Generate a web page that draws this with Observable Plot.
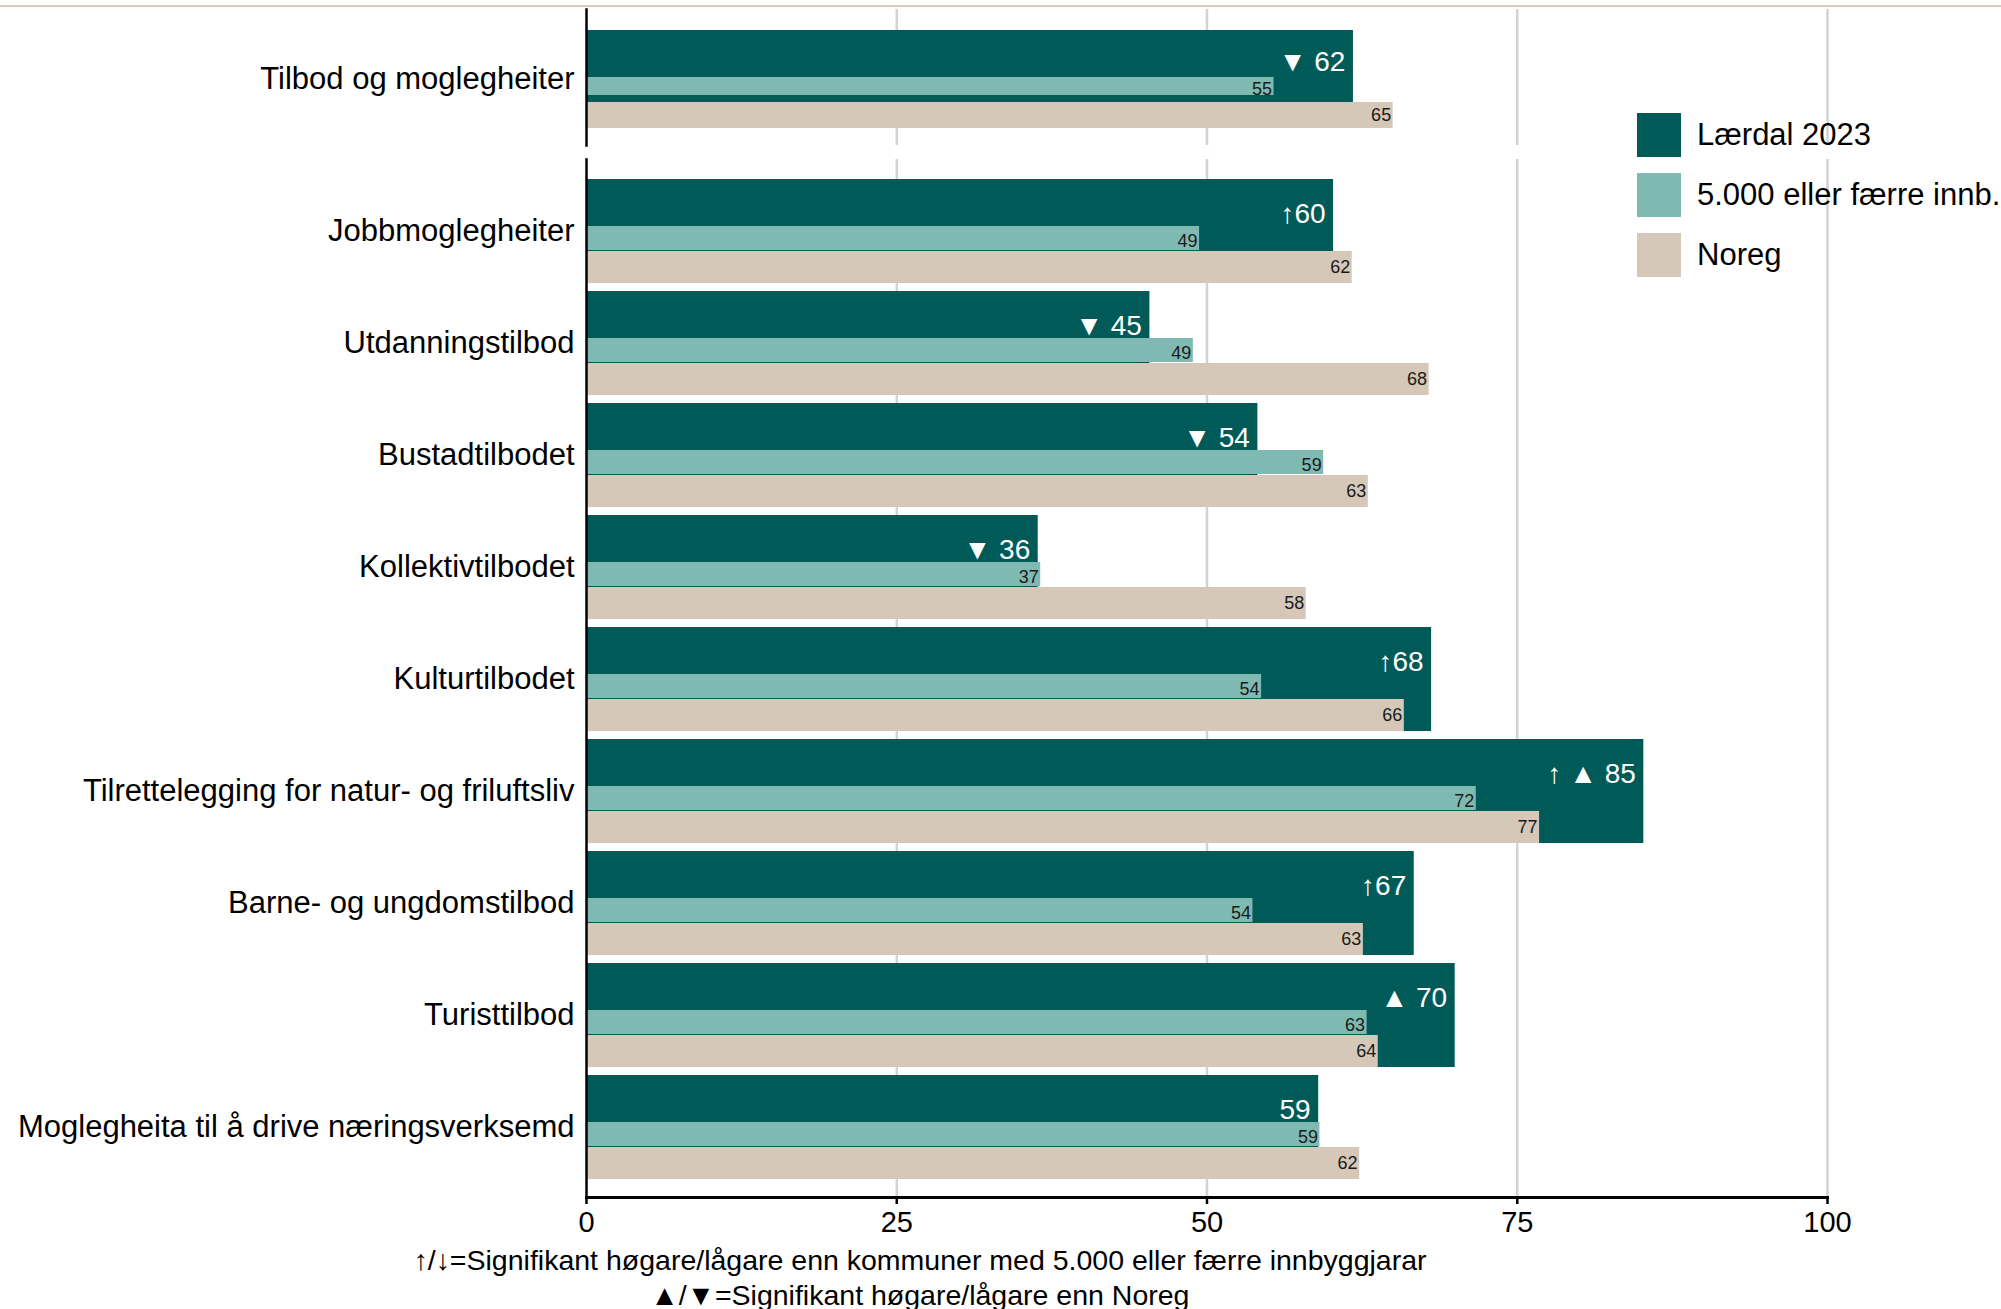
<!DOCTYPE html>
<html>
<head>
<meta charset="utf-8">
<script src="https://cdn.jsdelivr.net/npm/d3@7"></script>
<script src="https://cdn.jsdelivr.net/npm/@observablehq/plot@0.6"></script>
<style>
  html, body { margin: 0; padding: 0; background: #fff; }
  body { width: 2001px; height: 1309px; position: relative; overflow: hidden; font-family: "Liberation Sans", Arial, sans-serif; color: #000; }
  .topline { position: absolute; left: 0; top: 5px; width: 2001px; height: 2px; background: #d9ccbd; }
  .panel { position: absolute; left: 0; }
  .legend { position: absolute; left: 1637px; top: 113px; }
  .legend .item { display: flex; align-items: center; height: 44px; margin-bottom: 16px; white-space: nowrap; }
  .legend .sw { width: 44px; height: 44px; margin-right: 16px; flex: none; }
  .legend span { font-size: 31px; }
  .footer { position: absolute; left: 0; top: 1243px; width: 1840px; text-align: center; font-size: 28.5px; line-height: 35px; }
</style>
</head>
<body>
<div class="topline"></div>
<div id="top" class="panel" style="top:0px"></div>
<div id="bottom" class="panel" style="top:152px"></div>
<div id="legend" class="legend"></div>
<div id="footer" class="footer"></div>
<script>
const categories = [
  "Tilbod og moglegheiter",
  "Jobbmoglegheiter",
  "Utdanningstilbod",
  "Bustadtilbodet",
  "Kollektivtilbodet",
  "Kulturtilbodet",
  "Tilrettelegging for natur- og friluftsliv",
  "Barne- og ungdomstilbod",
  "Turisttilbod",
  "Moglegheita til å drive næringsverksemd"
];
const laerdal = [61.8, 60.2, 45.4, 54.1, 36.4, 68.1, 85.2, 66.7, 70.0, 59.0];
const small   = [55.4, 49.4, 48.9, 59.4, 36.6, 54.4, 71.7, 53.7, 62.9, 59.1];
const noreg   = [65.0, 61.7, 67.9, 63.0, 58.0, 65.9, 76.8, 62.6, 63.8, 62.3];
const sigSmall = ["", "↑", "", "", "", "↑", "↑", "↑", "", ""];
const sigNoreg = ["▼", "", "▼", "▼", "▼", "", "▲", "", "▲", ""];
const seriesNames = ["Lærdal 2023", "5.000 eller færre innb.", "Noreg"];
const seriesColors = ["#005b58", "#7fbab2", "#d5c8b8"];
const xTicks = [0, 25, 50, 75, 100];
const footerLines = [
  "↑/↓=Signifikant høgare/lågare enn kommuner med 5.000 eller færre innbyggjarar",
  "▲/▼=Signifikant høgare/lågare enn Noreg"
];

const rows = categories.map((cat, i) => ({
  cat, laerdal: laerdal[i], small: small[i], noreg: noreg[i],
  sigSmall: sigSmall[i], sigNoreg: sigNoreg[i]
}));

function bigLabel(d) {
  let s = d.sigSmall;
  if (d.sigNoreg) s += (d.sigSmall ? " " : "") + d.sigNoreg + " ";
  return s + Math.round(d.laerdal);
}

function panel(data, {height, marginTop, marginBottom, withAxis}) {
  return Plot.plot({
    width: 2001,
    height,
    marginLeft: 586,
    marginRight: 174,
    marginTop,
    marginBottom,
    style: {fontFamily: "'Liberation Sans', Arial, sans-serif", color: "#000", background: "transparent", overflow: "visible"},
    x: {domain: [0, 100], axis: null},
    y: {domain: data.map(d => d.cat), paddingInner: 0.07, paddingOuter: 0, insetTop: 17, insetBottom: 14, axis: null},
    marks: [
      Plot.gridX(xTicks.slice(1), {stroke: "#d3d3d3", strokeOpacity: 1, strokeWidth: 2.5}),
      Plot.barX(data, {x: "laerdal", y: "cat", fill: seriesColors[0]}),
      Plot.barX(data, {x: "small", y: "cat", fill: seriesColors[1], insetTop: 47, insetBottom: 33}),
      Plot.barX(data, {x: "noreg", y: "cat", fill: seriesColors[2], insetTop: 72}),
      Plot.text(data, {x: "laerdal", y: "cat", text: bigLabel, textAnchor: "end", dx: -8, dy: -17.5, fill: "white", fontSize: 28}),
      Plot.text(data, {x: "small", y: "cat", text: d => String(Math.round(d.small)), textAnchor: "end", dx: -2, dy: 10, fill: "#1a1a1a", fontSize: 18}),
      Plot.text(data, {x: "noreg", y: "cat", text: d => String(Math.round(d.noreg)), textAnchor: "end", dx: -2, dy: 35.5, fill: "#1a1a1a", fontSize: 18}),
      Plot.axisY({tickSize: 0, tickPadding: 12, fontSize: 31, fill: "#000", label: null}),
      Plot.frame({anchor: "left", stroke: "#000", strokeWidth: 2.5}),
      withAxis ? Plot.frame({anchor: "bottom", stroke: "#000", strokeWidth: 3}) : null,
      withAxis ? Plot.axisX({ticks: xTicks, tickSize: 7, tickPadding: 7, fontSize: 29, stroke: "#000", strokeWidth: 2.5, fill: "#000", label: null}) : null
    ]
  });
}

document.getElementById("top").append(
  panel(rows.slice(0, 1), {height: 152, marginTop: 9, marginBottom: 7, withAxis: false})
);
document.getElementById("bottom").append(
  panel(rows.slice(1), {height: 1095, marginTop: 7, marginBottom: 50, withAxis: true})
);

const legend = document.getElementById("legend");
seriesNames.forEach((name, i) => {
  const item = document.createElement("div");
  item.className = "item";
  const sw = document.createElement("div");
  sw.className = "sw";
  sw.style.background = seriesColors[i];
  const label = document.createElement("span");
  label.textContent = name;
  item.append(sw, label);
  legend.append(item);
});

const footer = document.getElementById("footer");
footerLines.forEach(t => {
  const line = document.createElement("div");
  line.textContent = t;
  footer.append(line);
});
</script>
</body>
</html>
